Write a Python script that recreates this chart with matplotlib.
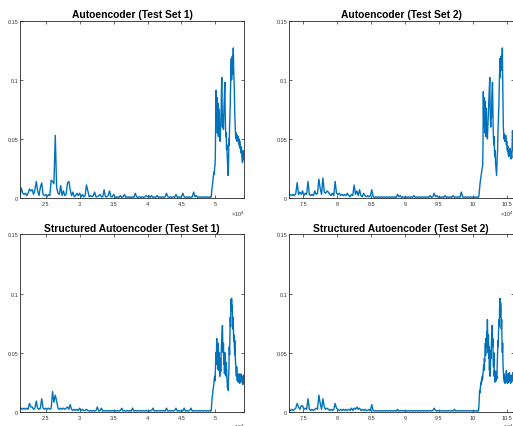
import numpy as np
import matplotlib
matplotlib.use('Agg')
import matplotlib.pyplot as plt

plt.rcParams['font.family'] = ['Liberation Sans', 'DejaVu Sans']
plt.rcParams['mathtext.fontset'] = 'custom'
plt.rcParams['mathtext.rm'] = 'Liberation Sans'

# ---------------- DATA ----------------
titles = ['Autoencoder (Test Set 1)', 'Autoencoder (Test Set 2)',
          'Structured Autoencoder (Test Set 1)', 'Structured Autoencoder (Test Set 2)']

base_step = 200      # sample spacing in the quiet part
active_step = 50     # sample spacing in the active part

set1_base_start = 21200
set1_active_start = 49300
set2_base_start = 72900
set2_active_start = 100800

set1_xlim = (21200, 54300)
set2_xlim = (72900, 106000)

set1_xticks = [25000, 30000, 35000, 40000, 45000, 50000]
set1_xticklabels = ['2.5', '3', '3.5', '4', '4.5', '5']
set2_xticks = [75000, 80000, 85000, 90000, 95000, 100000, 105000]
set2_xticklabels = ['7.5', '8', '8.5', '9', '9.5', '10', '10.5']

yticks = [0, 0.05, 0.1, 0.15]
yticklabels = ['0', '0.05', '0.1', '0.15']

ae1_base = [0.002, 0.0085, 0.004, 0.003, 0.004, 0.002, 0.004, 0.0076, 0.006, 0.007,
            0.003, 0.007, 0.014, 0.006, 0.002, 0.009, 0.0127, 0.003, 0.002, 0.003,
            0.001, 0.003, 0.002, 0.015, 0.014, 0.012, 0.053, 0.009, 0.004, 0.003,
            0.0105, 0.002, 0.006, 0.002, 0.003, 0.0127, 0.014, 0.007, 0.002, 0.005,
            0.001, 0.002, 0.004, 0.002, 0.004, 0.001, 0.003, 0.001, 0.002, 0.011,
            0.006, 0.001, 0.002, 0.001, 0.002, 0.005, 0.001, 0.001, 0.002, 0.003,
            0.001, 0.001, 0.007, 0.001, 0.001, 0.002, 0.006, 0.001, 0.001, 0.003,
            0.001, 0.0005, 0.001, 0.0005, 0.002, 0.0005, 0.001, 0.003, 0.0005, 0.001,
            0.0005, 0.001, 0.0005, 0.001, 0.0005, 0.004, 0.001, 0.0005, 0.001, 0.0005,
            0.001, 0.0005, 0.001, 0.002, 0.001, 0.002, 0.0005, 0.002, 0.0005, 0.001,
            0.0005, 0.002, 0.0005, 0.001, 0.0005, 0.001, 0.0005, 0.001, 0.004, 0.001,
            0.0005, 0.001, 0.0005, 0.001, 0.0005, 0.003, 0.0005, 0.001, 0.0005, 0.001,
            0.004, 0.001, 0.0005, 0.001, 0.0005, 0.001, 0.0005, 0.001, 0.005, 0.001,
            0.002, 0.0005, 0.001, 0.0005, 0.001, 0.0005, 0.001, 0.0005, 0.001, 0.0005,
            0.001]
ae1_active = [0.0005, 0.001, 0.001, 0.005, 0.008, 0.010, 0.012, 0.015, 0.018, 0.020,
              0.022, 0.020, 0.026, 0.027, 0.035, 0.060, 0.091, 0.070, 0.062, 0.085,
              0.055, 0.070, 0.080, 0.052, 0.068, 0.075, 0.058, 0.062, 0.048, 0.055,
              0.065, 0.072, 0.090, 0.102, 0.078, 0.060, 0.070, 0.064, 0.058, 0.072,
              0.080, 0.090, 0.098, 0.075, 0.060, 0.052, 0.055, 0.041, 0.045, 0.035,
              0.030, 0.025, 0.019, 0.030, 0.050, 0.045, 0.060, 0.070, 0.080, 0.095,
              0.105, 0.118, 0.100, 0.110, 0.120, 0.105, 0.115, 0.127, 0.110, 0.100,
              0.092, 0.075, 0.065, 0.058, 0.051, 0.050, 0.055, 0.050, 0.048, 0.053,
              0.050, 0.052, 0.050, 0.046, 0.050, 0.044, 0.048, 0.042, 0.045, 0.041,
              0.038, 0.043, 0.036, 0.033, 0.030, 0.035, 0.040, 0.034, 0.038, 0.032,
              0.036]

ae2_base = [0.002, 0.003, 0.002, 0.003, 0.002, 0.004, 0.013, 0.003, 0.005, 0.003,
            0.006, 0.002, 0.004, 0.003, 0.014, 0.003, 0.002, 0.003, 0.002, 0.006,
            0.003, 0.004, 0.016, 0.008, 0.003, 0.017, 0.005, 0.004, 0.006, 0.005,
            0.003, 0.002, 0.004, 0.002, 0.014, 0.004, 0.003, 0.004, 0.002, 0.003,
            0.002, 0.003, 0.002, 0.004, 0.002, 0.001, 0.003, 0.002, 0.011, 0.003,
            0.006, 0.002, 0.007, 0.002, 0.001, 0.004, 0.002, 0.001, 0.002, 0.001,
            0.002, 0.007, 0.001, 0.0005, 0.001, 0.0005, 0.001, 0.0005, 0.001, 0.0005,
            0.001, 0.0005, 0.001, 0.0005, 0.001, 0.0005, 0.001, 0.0005, 0.001, 0.0005,
            0.003, 0.001, 0.002, 0.0005, 0.001, 0.0005, 0.001, 0.0005, 0.001, 0.0005,
            0.001, 0.0005, 0.002, 0.0005, 0.001, 0.0005, 0.001, 0.0005, 0.001, 0.0005,
            0.001, 0.0005, 0.001, 0.0005, 0.002, 0.0005, 0.001, 0.004, 0.001, 0.002,
            0.0005, 0.001, 0.0005, 0.001, 0.0005, 0.002, 0.0005, 0.001, 0.0005, 0.001,
            0.0005, 0.002, 0.0005, 0.001, 0.0005, 0.001, 0.0005, 0.005, 0.001, 0.0005,
            0.001, 0.0005, 0.001, 0.0005, 0.001, 0.0005, 0.001, 0.0005, 0.001, 0.0005]
ae2_active = [0.0005, 0.001, 0.002, 0.005, 0.008, 0.011, 0.014, 0.016, 0.018, 0.020,
              0.022, 0.024, 0.026, 0.027, 0.045, 0.090, 0.068, 0.060, 0.085, 0.055,
              0.072, 0.082, 0.052, 0.070, 0.076, 0.053, 0.062, 0.050, 0.058, 0.066,
              0.072, 0.080, 0.088, 0.095, 0.102, 0.078, 0.065, 0.060, 0.072, 0.068,
              0.085, 0.092, 0.098, 0.078, 0.060, 0.050, 0.045, 0.052, 0.038, 0.035,
              0.040, 0.030, 0.026, 0.022, 0.019, 0.028, 0.035, 0.040, 0.055, 0.065,
              0.072, 0.080, 0.095, 0.105, 0.118, 0.102, 0.110, 0.120, 0.108, 0.120,
              0.115, 0.127, 0.100, 0.080, 0.060, 0.055, 0.050, 0.054, 0.048, 0.052,
              0.049, 0.053, 0.050, 0.045, 0.048, 0.042, 0.040, 0.044, 0.038, 0.036,
              0.035, 0.040, 0.037, 0.042, 0.036, 0.040, 0.033, 0.038, 0.035, 0.034,
              0.045, 0.057, 0.048, 0.040, 0.042]

sae1_base = [0.002, 0.003, 0.002, 0.003, 0.002, 0.003, 0.002, 0.007, 0.004, 0.004,
             0.002, 0.003, 0.009, 0.003, 0.002, 0.003, 0.011, 0.003, 0.002, 0.003,
             0.002, 0.003, 0.002, 0.003, 0.017, 0.008, 0.014, 0.009, 0.003, 0.002,
             0.003, 0.002, 0.003, 0.002, 0.003, 0.004, 0.002, 0.006, 0.002, 0.001,
             0.002, 0.001, 0.002, 0.001, 0.003, 0.001, 0.002, 0.001, 0.001, 0.002,
             0.001, 0.0005, 0.001, 0.0005, 0.001, 0.0005, 0.001, 0.004, 0.0005, 0.001,
             0.003, 0.0005, 0.001, 0.0005, 0.001, 0.0005, 0.001, 0.0005, 0.001, 0.0005,
             0.001, 0.0005, 0.001, 0.0005, 0.001, 0.003, 0.0005, 0.001, 0.0005, 0.001,
             0.0005, 0.001, 0.0005, 0.003, 0.0005, 0.001, 0.0005, 0.001, 0.0005, 0.001,
             0.0005, 0.001, 0.0005, 0.001, 0.0005, 0.001, 0.0005, 0.001, 0.003, 0.0005,
             0.001, 0.0005, 0.001, 0.0005, 0.001, 0.0005, 0.001, 0.0005, 0.003, 0.0005,
             0.001, 0.0005, 0.001, 0.0005, 0.001, 0.003, 0.0005, 0.001, 0.0005, 0.001,
             0.0005, 0.003, 0.0005, 0.001, 0.0005, 0.001, 0.003, 0.0005, 0.001, 0.0005,
             0.001, 0.0005, 0.001, 0.0005, 0.001, 0.0005, 0.001, 0.0005, 0.001, 0.0005,
             0.001]
sae1_active = [0.0005, 0.001, 0.001, 0.006, 0.010, 0.013, 0.015, 0.018, 0.020, 0.022,
               0.025, 0.028, 0.030, 0.026, 0.035, 0.042, 0.050, 0.045, 0.062, 0.040,
               0.048, 0.036, 0.058, 0.040, 0.035, 0.050, 0.042, 0.030, 0.038, 0.045,
               0.034, 0.050, 0.055, 0.062, 0.068, 0.073, 0.055, 0.050, 0.058, 0.040,
               0.045, 0.032, 0.050, 0.040, 0.035, 0.042, 0.030, 0.036, 0.028, 0.025,
               0.020, 0.026, 0.018, 0.030, 0.035, 0.055, 0.048, 0.065, 0.080, 0.072,
               0.095, 0.088, 0.096, 0.085, 0.090, 0.070, 0.080, 0.075, 0.060, 0.065,
               0.055, 0.048, 0.060, 0.045, 0.040, 0.035, 0.030, 0.038, 0.030, 0.026,
               0.032, 0.028, 0.025, 0.030, 0.026, 0.032, 0.024, 0.028, 0.025, 0.030,
               0.032, 0.026, 0.030, 0.025, 0.029, 0.023, 0.028, 0.031, 0.025, 0.030,
               0.026]

sae2_base = [0.002, 0.001, 0.002, 0.001, 0.002, 0.003, 0.007, 0.004, 0.002, 0.005,
             0.005, 0.002, 0.003, 0.002, 0.011, 0.002, 0.001, 0.002, 0.001, 0.002,
             0.003, 0.002, 0.014, 0.007, 0.002, 0.011, 0.004, 0.002, 0.003, 0.002,
             0.001, 0.002, 0.001, 0.002, 0.007, 0.003, 0.002, 0.001, 0.002, 0.001,
             0.002, 0.001, 0.002, 0.001, 0.002, 0.001, 0.003, 0.001, 0.003, 0.002,
             0.004, 0.002, 0.003, 0.001, 0.002, 0.001, 0.002, 0.001, 0.001, 0.002,
             0.001, 0.006, 0.001, 0.0005, 0.001, 0.0005, 0.001, 0.0005, 0.001, 0.0005,
             0.001, 0.0005, 0.001, 0.0005, 0.001, 0.0005, 0.001, 0.0005, 0.001, 0.0005,
             0.002, 0.0005, 0.001, 0.0005, 0.001, 0.0005, 0.001, 0.0005, 0.001, 0.0005,
             0.001, 0.0005, 0.001, 0.0005, 0.001, 0.0005, 0.001, 0.0005, 0.001, 0.0005,
             0.001, 0.0005, 0.001, 0.0005, 0.001, 0.0005, 0.001, 0.003, 0.001, 0.0005,
             0.001, 0.0005, 0.001, 0.0005, 0.001, 0.0005, 0.001, 0.0005, 0.001, 0.0005,
             0.001, 0.0005, 0.002, 0.0005, 0.001, 0.0005, 0.001, 0.0005, 0.001, 0.0005,
             0.001, 0.0005, 0.001, 0.0005, 0.001, 0.0005, 0.001, 0.0005, 0.001, 0.0005]
sae2_active = [0.0005, 0.001, 0.005, 0.012, 0.018, 0.016, 0.020, 0.022, 0.025, 0.023,
               0.028, 0.026, 0.030, 0.028, 0.033, 0.036, 0.040, 0.035, 0.045, 0.042,
               0.050, 0.058, 0.048, 0.062, 0.055, 0.068, 0.060, 0.078, 0.060, 0.050,
               0.065, 0.045, 0.055, 0.035, 0.048, 0.030, 0.040, 0.052, 0.045, 0.060,
               0.068, 0.073, 0.055, 0.062, 0.045, 0.038, 0.050, 0.030, 0.035, 0.025,
               0.030, 0.028, 0.034, 0.026, 0.030, 0.028, 0.040, 0.050, 0.060, 0.055,
               0.070, 0.078, 0.072, 0.088, 0.096, 0.080, 0.092, 0.087, 0.070, 0.078,
               0.060, 0.050, 0.058, 0.040, 0.035, 0.028, 0.032, 0.025, 0.030, 0.024,
               0.028, 0.025, 0.030, 0.035, 0.026, 0.030, 0.024, 0.028, 0.032, 0.025,
               0.030, 0.027, 0.033, 0.026, 0.030, 0.024, 0.028, 0.031, 0.025, 0.029,
               0.026, 0.030, 0.033, 0.027, 0.030]

panels = [
    (titles[0], ae1_base, ae1_active, set1_base_start, set1_active_start, set1_xlim, set1_xticks, set1_xticklabels),
    (titles[1], ae2_base, ae2_active, set2_base_start, set2_active_start, set2_xlim, set2_xticks, set2_xticklabels),
    (titles[2], sae1_base, sae1_active, set1_base_start, set1_active_start, set1_xlim, set1_xticks, set1_xticklabels),
    (titles[3], sae2_base, sae2_active, set2_base_start, set2_active_start, set2_xlim, set2_xticks, set2_xticklabels),
]

# ---------------- PLOT ----------------
fig = plt.figure(figsize=(5.13, 4.27), dpi=100)
W, H = 0.4376, 0.4150
positions = [(0.039, 0.534), (0.5634, 0.534), (0.039, 0.0335), (0.5634, 0.0335)]

line_color = '#0072BD'
axis_color = '#262626'

for (title, base, active, bstart, astart, xlim, xt, xtl), (px, py) in zip(panels, positions):
    ax = fig.add_axes([px, py, W, H])
    x = np.concatenate([bstart + base_step * np.arange(len(base)),
                        astart + active_step * np.arange(len(active))])
    y = np.concatenate([np.array(base), np.array(active)])
    ax.plot(x, y, color=line_color, lw=1.0)
    ax.set_xlim(*xlim)
    ax.set_ylim(0, 0.15)
    ax.set_xticks(xt)
    ax.set_xticklabels(xtl)
    ax.set_yticks(yticks)
    ax.set_yticklabels(yticklabels)
    ax.tick_params(direction='in', length=2.0, width=0.5, labelsize=4,
                   color=axis_color, labelcolor='#333333', top=True, right=True)
    ax.tick_params(axis='x', pad=2.2)
    ax.tick_params(axis='y', pad=1.2)
    for s in ax.spines.values():
        s.set_linewidth(0.6)
        s.set_color(axis_color)
    ax.set_title(title, fontsize=7.4, fontweight='bold', pad=2.5, color='black')
    ax.text(1.0, -0.058, r'$\times10^{4}$', transform=ax.transAxes,
            ha='right', va='top', fontsize=4, color='#333333')

fig.savefig('out.png', dpi=100)
